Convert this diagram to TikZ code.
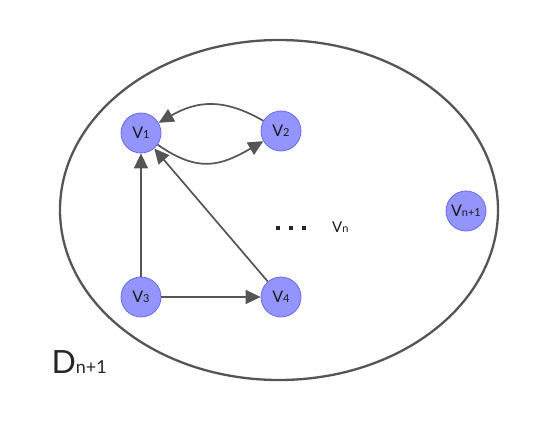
\documentclass[tikz,border=0pt]{standalone}
\usepackage{fontspec}
\setmainfont{Lato}
\usetikzlibrary{arrows.meta,shapes.geometric}
\definecolor{nodefill}{HTML}{9494FF}
\definecolor{nodeline}{HTML}{6A6AEE}
\definecolor{edgecol}{HTML}{555555}
\begin{document}
\begin{tikzpicture}[x=1pt,y=-1pt,
  vert/.style={circle,draw=nodeline,fill=nodefill,line width=0.8pt,minimum size=40pt,inner sep=0pt,font=\fontsize{16}{16}\selectfont,text=black!90},
  edge/.style={draw=edgecol,line width=1.7pt,-{Triangle[length=15pt,width=14pt]}},
  dot/.style={fill=black!85,minimum size=4pt,inner sep=0pt}]
\useasboundingbox (0,0) rectangle (540,420);
\node[draw=edgecol,line width=2.3pt,ellipse,minimum width=438pt,minimum height=340pt,inner sep=0pt] (D) at (279,210) {};
\node[vert] (v1) at (141,133) {V{\fontsize{11}{11}\selectfont 1}};
\node[vert] (v2) at (281,131) {V{\fontsize{11}{11}\selectfont 2}};
\node[vert] (v3) at (141,297) {V{\fontsize{11}{11}\selectfont 3}};
\node[vert] (v4) at (281,297) {V{\fontsize{11}{11}\selectfont 4}};
\node[vert] (vn1) at (466,211) {V{\fontsize{11}{11}\selectfont n+1}};
\node[dot] (d1) at (277.5,228) {};
\node[dot] (d2) at (290.5,228) {};
\node[dot] (d3) at (303.5,228) {};
\node[font=\fontsize{15}{15}\selectfont,text=black!90,anchor=base west,inner sep=0pt] (vn) at (332,232) {V{\fontsize{11}{11}\selectfont n}};
\node[font=\fontsize{32}{32}\selectfont,text=black!85,anchor=west] (Dl) at (48,362) {D{\fontsize{18}{18}\selectfont n+1}};
\draw[edge] (v2) to[out=150,in=30,looseness=1.1] (v1);
\draw[edge] (v1) to[out=-35,in=-150,looseness=1.2] (v2);
\draw[edge] (v3) -- (v1);
\draw[edge] (v4) -- (v1);
\draw[edge] (v3) -- (v4);
\end{tikzpicture}
\end{document}
